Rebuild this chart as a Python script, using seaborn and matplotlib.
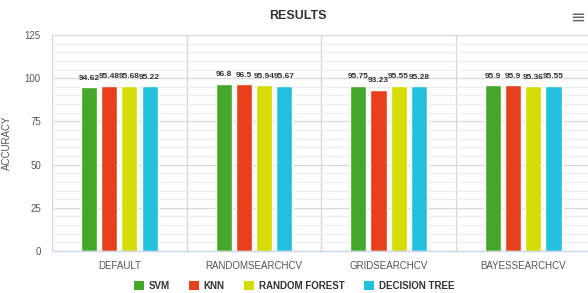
import matplotlib
matplotlib.use("Agg")
import matplotlib.pyplot as plt
import seaborn as sns
import pandas as pd
import numpy as np
from matplotlib.patches import Patch
from matplotlib.ticker import MultipleLocator, FixedLocator

methods = ["DEFAULT", "RANDOMSEARCHCV", "GRIDSEARCHCV", "BAYESSEARCHCV"]
models = ["SVM", "KNN", "RANDOM FOREST", "DECISION TREE"]
svm = [94.62, 96.8, 95.75, 95.9]
knn = [95.48, 96.5, 93.23, 95.9]
rf = [95.68, 95.94, 95.55, 95.36]
dt = [95.22, 95.67, 95.28, 95.55]
colors = ["#43a72a", "#e8401a", "#d5dc06", "#22bfde"]

rows = []
for model, vals in zip(models, [svm, knn, rf, dt]):
    for m, v in zip(methods, vals):
        rows.append({"method": m, "model": model, "accuracy": v})
df = pd.DataFrame(rows)

sns.set_theme(style="white")
plt.rcParams["font.family"] = ["Liberation Sans", "DejaVu Sans"]

fig = plt.figure(figsize=(5.88, 2.93), dpi=100)
ax = fig.add_axes([52 / 588, 42 / 293, 538.5 / 588, 216 / 293])

sns.barplot(data=df, x="method", y="accuracy", hue="model", order=methods,
            hue_order=models, palette=colors, width=0.6, gap=0.2,
            saturation=1, ax=ax, legend=False, errorbar=None)

for cont in ax.containers:
    ax.bar_label(cont, fmt="%g", padding=4, fontsize=6, fontweight="bold",
                 color="#333333")

ax.set_xlim(-0.5, 3.5)
ax.set_ylim(0, 125)
ax.yaxis.set_major_locator(MultipleLocator(25))
ax.yaxis.set_minor_locator(MultipleLocator(5))
ax.xaxis.set_minor_locator(FixedLocator([-0.5, 0.5, 1.5, 2.5, 3.5]))
ax.grid(which="major", axis="y", color="#d9d9d9", linewidth=0.9)
ax.grid(which="minor", axis="y", color="#ececec", linewidth=0.8)
ax.grid(which="minor", axis="x", color="#d6d6d6", linewidth=0.9)
ax.set_axisbelow(True)
for s in ["top", "right", "left"]:
    ax.spines[s].set_visible(False)
ax.spines["bottom"].set_color("#ccd6eb")
ax.spines["bottom"].set_linewidth(1)
ax.tick_params(axis="x", which="major", length=0, pad=7, labelsize=7,
               labelcolor="#555555")
ax.tick_params(axis="x", which="minor", length=6, color="#ccd6eb", width=1)
ax.tick_params(axis="y", which="both", length=0, pad=8, labelsize=7,
               labelcolor="#555555")
ax.set_xlabel("")
ax.set_ylabel("ACCURACY", fontsize=7, color="#555555", labelpad=9)

fig.text(0.507, 0.947, "RESULTS", ha="center", va="center", fontsize=9,
         fontweight="bold", color="#333333")
fig.text(0.983, 0.94, "\u2261", ha="center", va="center", fontsize=13,
         color="#666666", family=["DejaVu Sans"])

handles = [Patch(facecolor=c, edgecolor="none", label=m)
           for c, m in zip(colors, models)]
leg = fig.legend(handles=handles, loc="center", bbox_to_anchor=(0.5, 0.025),
                 ncol=4, frameon=False, handlelength=1.0, handleheight=1.0,
                 handletextpad=0.5, columnspacing=2.0,
                 prop={"size": 7, "weight": "bold"})
for t in leg.get_texts():
    t.set_color("#333333")

fig.savefig("out.png", dpi=100)
